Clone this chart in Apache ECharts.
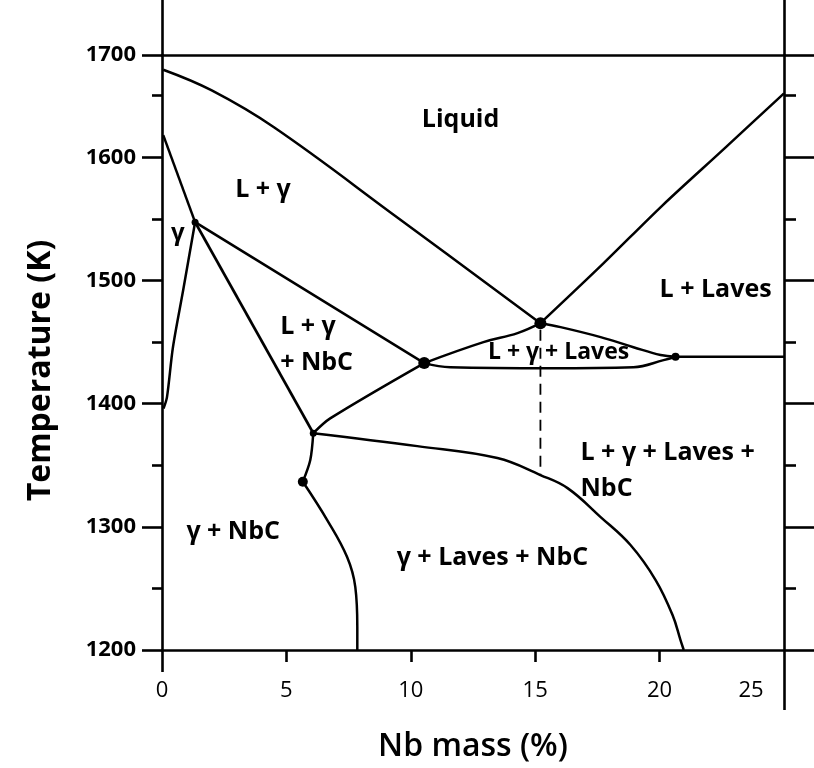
<!DOCTYPE html>
<html>
<head>
<meta charset="utf-8">
<script src="https://cdn.jsdelivr.net/npm/echarts@6/dist/echarts.min.js"></script>
<style>
  html, body { margin: 0; padding: 0; background: #fff; }
  #chart { width: 814px; height: 768px; }
</style>
</head>
<body>
<div id="chart"></div>
<script>
// Pseudo-binary phase diagram: temperature (K) against Nb mass (%)

// axis ranges and tick labels
const xMin = 0, xMax = 25, xStep = 5;
const tMin = 1200, tMax = 1683, tStep = 100;
const topTickLabel = '1700';   // label printed on the upper frame line

// phase boundaries, [Nb %, T (K)]
const liquidusGamma = [[0.05, 1671], [2.0, 1654.2], [4.5, 1624.3], [9.5, 1550.5], [15.21, 1465.3]];
const liquidusLaves = [[15.21, 1465.3], [17.7, 1513], [20.12, 1561], [22.6, 1607], [25, 1651.9]];
const gammaUpper = [[0.05, 1618], [1.33, 1547.3]];
const gammaLower = [[1.33, 1547.3], [0.85, 1492], [0.44, 1445.8], [0.2, 1405.3], [0.06, 1396]];
const nbcLiquidus = [[1.33, 1547.3], [10.54, 1432.9]];
const gammaNbcSolvus = [[1.33, 1547.3], [6.08, 1376]];
const nbcLavesTrough = [[6.08, 1376], [6.76, 1388], [10.54, 1432.9]];
const threePhaseTopLeft = [[10.54, 1432.9], [12.92, 1449.9], [14.29, 1457.2], [15.21, 1465.3]];
const threePhaseTopRight = [[15.21, 1465.3], [16.02, 1462.1], [17.63, 1454], [18.95, 1445.8], [20.04, 1439.4], [20.64, 1438]];
const threePhaseBottom = [[10.54, 1432.9], [11.59, 1429.6], [15.61, 1428.8], [18.95, 1429.6], [20.16, 1435.3], [20.64, 1438]];
const lavesEutecticLine = [[20.64, 1438], [25, 1438]];
const gammaSolvusUpper = [[6.08, 1376], [5.96, 1354.2], [5.66, 1336.6]];
const gammaSolvusLower = [[5.66, 1336.6], [6.64, 1305.5], [7.44, 1275.5], [7.77, 1251.1], [7.85, 1218.7], [7.85, 1200]];
const lavesSolvus = [[6.08, 1376], [10.26, 1365.5], [13.48, 1355.8], [15.21, 1342], [16.3, 1331.4], [17.63, 1307.9], [18.83, 1285.2], [19.84, 1256.8], [20.52, 1228.4], [20.84, 1208.1], [20.97, 1200]];
const eutecticDrop = [[15.21, 1460], [15.21, 1342]];

// invariant points [Nb %, T (K), marker size]
const invariantPoints = [[15.21, 1465.3, 12], [10.54, 1432.9, 12], [20.64, 1438, 8], [6.08, 1376, 7], [5.66, 1336.6, 10], [1.33, 1547.3, 7]];

// phase field names and their anchor [Nb %, T (K)]
const fieldNames = ['Liquid', 'L + γ', 'γ', 'L + γ\n+ NbC', 'L + Laves', 'L + γ + Laves', 'L + γ + Laves +\nNbC', 'γ + NbC', 'γ + Laves + NbC'];
const fieldAnchors = [[12.0, 1630], [4.06, 1573.2], [0.64, 1538.3], [4.75, 1447.9], [22.25, 1492.1], [15.94, 1441.8], [16.82, 1345.2], [2.86, 1295.7], [13.28, 1274.6]];
const fieldAlign = ['center', 'center', 'center', 'left', 'center', 'center', 'left', 'center', 'center'];
const fieldSize = [25, 25, 24, 25, 25, 23, 25, 25, 25];

const INK = '#000';
const FONT = '"Open Sans", "DejaVu Sans", sans-serif';

function boundary(data, smooth, extra) {
  return Object.assign({
    type: 'line', data: data, xAxisIndex: 0, yAxisIndex: 0,
    symbol: 'none', smooth: smooth, silent: true, z: 3,
    lineStyle: { color: INK, width: 2.5 }
  }, extra || {});
}

const chart = echarts.init(document.getElementById('chart'), null, { renderer: 'canvas' });

const gridBox = { left: 162, right: 30, top: 55, bottom: 118 };

const hiddenY = (grid) => ({ gridIndex: grid, type: 'value', min: tMin, max: tMax, show: false });

chart.setOption({
  backgroundColor: '#fff',
  animation: false,
  grid: [Object.assign({}, gridBox), Object.assign({}, gridBox), Object.assign({}, gridBox)],
  xAxis: [
    {
      gridIndex: 0, type: 'value', position: 'bottom', min: xMin, max: xMax, interval: xStep,
      axisLine: { onZero: false, lineStyle: { color: INK, width: 2.6 } },
      axisTick: { customValues: [5, 10, 15, 20], length: 12, lineStyle: { color: INK, width: 2.6 } },
      splitLine: { show: false },
      axisLabel: {
        margin: 30, color: INK,
        formatter: (v) => v === xMax ? '{end|' + v + '}' : '{n|' + v + '}',
        rich: {
          n: { fontSize: 22, fontFamily: FONT, color: INK },
          end: { fontSize: 22, fontFamily: FONT, color: INK, padding: [0, 66, 0, 0] }
        }
      },
      name: 'Nb mass (%)', nameLocation: 'middle', nameGap: 81,
      nameTextStyle: { fontSize: 32, fontWeight: 600, fontFamily: FONT, color: INK }
    },
    {
      gridIndex: 0, type: 'value', position: 'top', min: xMin, max: xMax,
      axisLine: { onZero: false, lineStyle: { color: INK, width: 2.6 } },
      axisTick: { customValues: [xMin, xMax], length: 55, lineStyle: { color: INK, width: 2.6 } },
      axisLabel: { show: false }, splitLine: { show: false }
    },
    {
      gridIndex: 1, type: 'value', position: 'bottom', min: xMin, max: xMax,
      axisLine: { show: false, onZero: false },
      axisTick: { customValues: [xMin], length: 22, lineStyle: { color: INK, width: 2.6 } },
      axisLabel: { show: false }, splitLine: { show: false }
    },
    {
      gridIndex: 2, type: 'value', position: 'bottom', min: xMin, max: xMax,
      axisLine: { show: false, onZero: false },
      axisTick: { customValues: [xMax], length: 60, lineStyle: { color: INK, width: 2.6 } },
      axisLabel: { show: false }, splitLine: { show: false }
    }
  ],
  yAxis: [
    {
      gridIndex: 0, type: 'value', position: 'left', min: tMin, max: tMax, interval: tStep,
      axisLine: { onZero: false, lineStyle: { color: INK, width: 2.6 } },
      axisTick: { length: 20, lineStyle: { color: INK, width: 2.6 } },
      minorTick: { show: true, splitNumber: 2, length: 10, lineStyle: { color: INK, width: 2.6 } },
      splitLine: { show: false },
      axisLabel: {
        margin: 26, color: INK, fontSize: 22, fontWeight: 'bold', fontFamily: FONT,
        showMaxLabel: true,
        formatter: (v) => v >= tMax ? topTickLabel : String(v)
      },
      name: 'Temperature (K)', nameLocation: 'middle', nameRotate: 90, nameGap: 105,
      nameTextStyle: { fontSize: 32, fontWeight: 'bold', fontFamily: FONT, color: INK, padding: [0, 36, 0, 0] }
    },
    {
      gridIndex: 0, type: 'value', position: 'right', min: tMin, max: tMax, interval: tStep,
      axisLine: { onZero: false, lineStyle: { color: INK, width: 2.6 } },
      axisTick: { length: 30, lineStyle: { color: INK, width: 2.6 } },
      minorTick: { show: true, splitNumber: 2, length: 12, lineStyle: { color: INK, width: 2.6 } },
      splitLine: { show: false },
      axisLabel: { show: false }
    },
    hiddenY(1),
    hiddenY(2)
  ],
  series: [
    boundary(liquidusGamma, 0.4),
    boundary(liquidusLaves, 0.3),
    boundary(gammaUpper, false),
    boundary(gammaLower, 0.3),
    boundary(nbcLiquidus, false),
    boundary(gammaNbcSolvus, false, { lineStyle: { color: INK, width: 2.8 } }),
    boundary(nbcLavesTrough, 0.3),
    boundary(threePhaseTopLeft, 0.4),
    boundary(threePhaseTopRight, 0.4),
    boundary(threePhaseBottom, 0.4),
    boundary(lavesEutecticLine, false),
    boundary(gammaSolvusUpper, 0.3),
    boundary(gammaSolvusLower, 0.4),
    boundary(lavesSolvus, 0.4),
    boundary(eutecticDrop, false, { lineStyle: { color: INK, width: 1.8, type: [11, 7] } }),
    {
      type: 'scatter', xAxisIndex: 0, yAxisIndex: 0, silent: true, z: 5,
      data: invariantPoints.map(p => [p[0], p[1]]),
      symbolSize: (val, params) => invariantPoints[params.dataIndex][2],
      itemStyle: { color: INK, opacity: 1 }
    },
    {
      type: 'scatter', xAxisIndex: 0, yAxisIndex: 0, silent: true, z: 6,
      symbolSize: 0,
      itemStyle: { opacity: 1 },
      data: fieldNames.map((name, i) => ({
        name: name,
        value: fieldAnchors[i],
        label: {
          show: true, position: 'inside', formatter: '{b}',
          align: fieldAlign[i], verticalAlign: 'middle',
          fontSize: fieldSize[i], fontWeight: 700, fontFamily: FONT,
          color: INK, textBorderWidth: 0, lineHeight: 36
        }
      }))
    }
  ]
});
</script>
</body>
</html>
